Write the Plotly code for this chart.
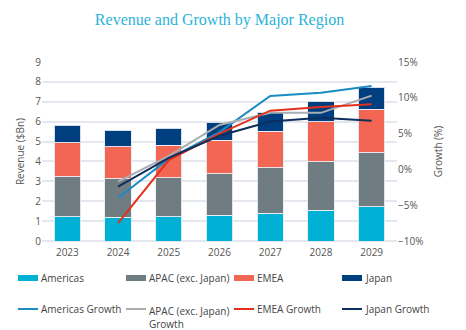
import plotly.graph_objects as go

years = ["2023", "2024", "2025", "2026", "2027", "2028", "2029"]

# Revenue by region ($Bn)
americas = [1.22, 1.19, 1.22, 1.29, 1.39, 1.54, 1.73]
apac = [2.00, 1.94, 1.96, 2.09, 2.29, 2.45, 2.71]
emea = [1.72, 1.61, 1.64, 1.69, 1.85, 2.00, 2.18]
japan = [0.87, 0.84, 0.84, 0.89, 0.94, 1.04, 1.10]

# Year-on-year growth (%), starting 2024
growth_years = ["2024", "2025", "2026", "2027", "2028", "2029"]
americas_growth = [-4.0, 1.5, 5.2, 10.25, 10.7, 11.65]
apac_growth = [-1.7, 1.9, 6.2, 7.9, 7.9, 10.3]
emea_growth = [-7.5, 1.3, 5.0, 8.2, 8.7, 9.1]
japan_growth = [-2.4, 1.6, 4.7, 6.7, 7.2, 6.8]

bar_series = [
    ("Americas", americas, "#00B0D5"),
    ("APAC (exc. Japan)", apac, "#6F7C82"),
    ("EMEA", emea, "#F26653"),
    ("Japan", japan, "#003F7F"),
]
line_series = [
    ("Americas Growth", americas_growth, "#1A8CC4"),
    ("APAC (exc. Japan)<br>Growth", apac_growth, "#A8ADB1"),
    ("EMEA Growth", emea_growth, "#E5301C"),
    ("Japan Growth", japan_growth, "#0E2E5E"),
]

W, H = 466, 330
L, R, T, B = 42, 69, 62, 89
plot_w, plot_h = W - L - R, H - T - B

fig = go.Figure()
for name, vals, color in bar_series:
    fig.add_trace(go.Bar(
        x=years, y=vals, name=name,
        marker=dict(color=color, line=dict(color="rgba(235,240,245,0.9)", width=1)),
        width=0.52,
    ))
for name, vals, color in line_series:
    fig.add_trace(go.Scatter(
        x=growth_years, y=vals, name=name, yaxis="y2",
        mode="lines", line=dict(color=color, width=2),
    ))


def px_x(px):
    return (px - L) / plot_w


def px_y(py):
    return (H - B - py) / plot_h


# Legend laid out in two rows of four columns below the plot
legend_font = dict(family="Open Sans", size=10, color="#444444")
col_x = [18, 126, 234, 342]
shapes = []
annotations = []
for i, (name, _, color) in enumerate(bar_series):
    x0 = col_x[i]
    yc = 278
    shapes.append(dict(type="rect", xref="paper", yref="paper",
                       x0=px_x(x0), x1=px_x(x0 + 20), y0=px_y(yc + 3), y1=px_y(yc - 3),
                       fillcolor=color, line=dict(width=0)))
    annotations.append(dict(text=name, xref="paper", yref="paper", x=px_x(x0 + 21), y=px_y(yc),
                            xanchor="left", yanchor="middle", showarrow=False, font=legend_font))
for i, (name, _, color) in enumerate(line_series):
    x0 = col_x[i]
    yc = 309
    shapes.append(dict(type="line", xref="paper", yref="paper",
                       x0=px_x(x0), x1=px_x(x0 + 20), y0=px_y(yc), y1=px_y(yc),
                       line=dict(color=color, width=2)))
    two_lines = "<br>" in name
    annotations.append(dict(text=name, xref="paper", yref="paper", x=px_x(x0 + 21),
                            y=px_y(yc - 7) if two_lines else px_y(yc),
                            xanchor="left", yanchor="top" if two_lines else "middle",
                            showarrow=False, font=legend_font, align="left"))

tick_font = dict(family="Open Sans", size=10, color="#555555")

fig.update_layout(
    width=W, height=H,
    margin=dict(l=L, r=R, t=T, b=B),
    paper_bgcolor="white", plot_bgcolor="white",
    barmode="stack",
    showlegend=False,
    title=dict(
        text="Revenue and Growth by Major Region",
        x=0.5, xref="paper", xanchor="center", y=0.94, yanchor="middle",
        font=dict(family="Liberation Serif", size=16, color="#2BB3D9"),
    ),
    xaxis=dict(
        tickfont=tick_font, showgrid=False, showline=False,
        ticks="", ticklabelstandoff=4,
    ),
    yaxis=dict(
        range=[0, 9], dtick=1, tickfont=tick_font,
        gridcolor="#E4E8EE", gridwidth=1.5, zeroline=True, zerolinecolor="#E4E8EE",
        title=dict(text="Revenue ($Bn)", font=dict(family="Open Sans", size=10, color="#555555"), standoff=8),
    ),
    yaxis2=dict(
        range=[-10, 15], dtick=5, ticksuffix="%", overlaying="y", side="right",
        showgrid=False, zeroline=False, tickfont=tick_font,
        title=dict(text="Growth (%)", font=dict(family="Open Sans", size=10, color="#555555"), standoff=12),
    ),
    shapes=shapes,
    annotations=annotations,
)

fig.write_html("out.html")
